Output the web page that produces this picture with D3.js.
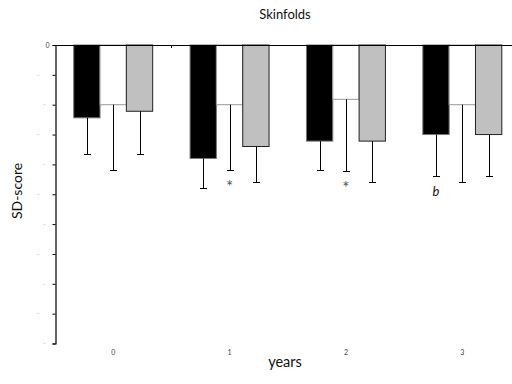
<!DOCTYPE html>
<html>
<head>
<meta charset="utf-8">
<script src="https://cdn.jsdelivr.net/npm/d3@7"></script>
<style>
  html, body { margin: 0; padding: 0; background: #fff; }
  svg { display: block; }
  text { font-family: Lato, "Open Sans", sans-serif; }
</style>
</head>
<body>
<svg id="chart" width="512" height="384"></svg>
<script>
// Follow-up years
const years = ["0", "1", "2", "3"];
// Three groups drawn side by side in each year
const seriesNames = ["group A", "group B", "group C"];
// Mean SD-scores per group and year
const meansA = [-1.22, -1.90, -1.61, -1.50];
const meansB = [-1.00, -1.00, -0.91, -1.00];
const meansC = [-1.11, -1.70, -1.61, -1.50];
// Standard deviations (drawn downward from each mean)
const sdA = [0.60, 0.50, 0.49, 0.70];
const sdB = [1.10, 1.10, 1.20, 1.30];
const sdC = [0.71, 0.60, 0.69, 0.70];
// Significance marks: [series index, year index, text]
const marks = [[1, 1, "*"], [1, 2, "*"], [0, 3, "b"]];
// Y tick values and labels
const yTicks = [0, -0.5, -1, -1.5, -2, -2.5, -3, -3.5, -4, -4.5, -5];
const yTickLabels = ["0", "-", "-", "-", "-", "-", "-", "-", "-", "-", "-"];

const fills = ["#000000", "#ffffff", "#c0c0c0"];
const strokes = ["#777777", "#999999", "#222222"];

const means = [meansA, meansB, meansC];
const sds = [sdA, sdB, sdC];

const svg = d3.select("#chart");
const mLeft = 55, mTop = 45, mBottom = 343.5, mRight = 520.5;

const x = d3.scaleBand().domain(years).range([mLeft, mRight]).paddingInner(0).paddingOuter(0);
const inner = d3.scaleBand().domain(d3.range(seriesNames.length))
  .range([0, x.bandwidth()]).paddingInner(0).paddingOuter(0.71);
const y = d3.scaleLinear().domain([0, -5]).range([mTop, mBottom]);

// Bars
seriesNames.forEach((name, s) => {
  svg.append("g").selectAll("rect")
    .data(years)
    .join("rect")
    .attr("x", (d) => x(d) + inner(s))
    .attr("y", y(0))
    .attr("width", inner.bandwidth())
    .attr("height", (d, i) => y(means[s][i]) - y(0))
    .attr("fill", fills[s])
    .attr("stroke", strokes[s])
    .attr("stroke-width", 1);
});

// Error bars (downward whiskers with caps)
seriesNames.forEach((name, s) => {
  const g = svg.append("g").attr("stroke", "#000").attr("stroke-width", 1);
  years.forEach((yr, i) => {
    const cx = Math.round(x(yr) + inner(s) + inner.bandwidth() / 2) + 0.5;
    const y0 = y(means[s][i]);
    const y1 = Math.round(y(means[s][i] - sds[s][i])) + 0.5;
    g.append("line").attr("x1", cx).attr("x2", cx).attr("y1", y0).attr("y2", y1);
    g.append("line").attr("x1", cx - 3.5).attr("x2", cx + 3.5).attr("y1", y1).attr("y2", y1);
  });
});

// Significance annotations below whiskers
marks.forEach(([s, i, t]) => {
  const star = t === "*";
  const cx = x(years[i]) + inner(s) + inner.bandwidth() / 2;
  const yEnd = y(means[s][i] - sds[s][i]);
  svg.append("text")
    .attr("x", cx)
    .attr("y", yEnd + (star ? 23 : 20))
    .attr("text-anchor", "middle")
    .attr("fill", star ? "#555" : "#111")
    .attr("font-family", star ? "'DejaVu Sans', sans-serif" : null)
    .attr("font-size", star ? 17 : 13)
    .attr("font-style", star ? "normal" : "italic")
    .text(t);
});

// Zero line along the top (category axis)
svg.append("line")
  .attr("x1", mLeft).attr("x2", mRight)
  .attr("y1", mTop + 0.5).attr("y2", mTop + 0.5)
  .attr("stroke", "#000").attr("stroke-width", 1.2);
svg.append("line")
  .attr("x1", Math.round(x("1")) + 0.5).attr("x2", Math.round(x("1")) + 0.5)
  .attr("y1", mTop).attr("y2", mTop + 3)
  .attr("stroke", "#000");

// Y axis
const yAxis = d3.axisLeft(y).tickValues(yTicks).tickSize(3).tickPadding(3)
  .tickFormat((d, i) => yTickLabels[i]);
const ya = svg.append("g").attr("transform", `translate(${mLeft + 0.5},0)`).call(yAxis);
ya.select(".domain").attr("stroke", "#000").attr("stroke-width", 1.2);
ya.selectAll(".tick line").attr("stroke", "#000");
ya.selectAll(".tick text")
  .attr("font-size", 7)
  .attr("fill", (d, i) => (i === 0 ? "#444" : "#bbb"))
  .attr("dx", (d, i) => (i === 0 ? 0 : (i % 2 === 1 ? -10 : -4)));

// Year labels
svg.append("g").selectAll("text")
  .data(years)
  .join("text")
  .attr("x", (d) => x(d) + x.bandwidth() / 2)
  .attr("y", 355)
  .attr("text-anchor", "middle")
  .attr("font-size", 7)
  .attr("fill", "#444")
  .text((d) => d);

// Titles
svg.append("text").attr("x", 285).attr("y", 19).attr("text-anchor", "middle")
  .attr("font-size", 13).attr("fill", "#111").text("Skinfolds");
svg.append("text").attr("x", 285).attr("y", 367).attr("text-anchor", "middle")
  .attr("font-size", 14.5).attr("fill", "#111").text("years");
svg.append("text").attr("transform", "translate(22,191) rotate(-90)")
  .attr("text-anchor", "middle").attr("font-size", 14).attr("fill", "#111").text("SD-score");
</script>
</body>
</html>
